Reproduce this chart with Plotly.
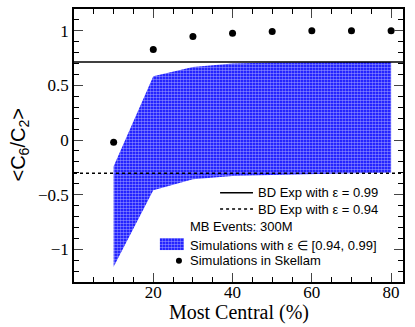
import plotly.graph_objects as go

# Data
centrality = [10, 20, 30, 40, 50, 60, 70, 80]
skellam = [-0.02, 0.83, 0.948, 0.978, 0.994, 1.0, 1.0, 1.0]
band_upper = [-0.24, 0.585, 0.67, 0.70, 0.71, 0.715, 0.715, 0.715]
band_lower = [-1.16, -0.46, -0.36, -0.33, -0.32, -0.31, -0.305, -0.30]
bd_exp_099 = 0.715
bd_exp_094 = -0.303
x_ticks = [20, 40, 60, 80]

pattern = dict(shape=".", fgcolor="white", bgcolor="#0000ff", size=3, solidity=0.55)

fig = go.Figure()

fig.add_trace(go.Scatter(
    x=centrality + centrality[::-1],
    y=band_upper + band_lower[::-1],
    fill="toself", mode="lines", line=dict(width=0, color="blue"),
    fillcolor="rgba(0,0,0,0)", fillpattern=pattern,
    hoverinfo="skip", showlegend=False))

fig.add_trace(go.Scatter(
    x=centrality, y=skellam, mode="markers",
    marker=dict(color="black", size=7), showlegend=False))

fig.add_shape(type="line", xref="paper", x0=0, x1=1, y0=bd_exp_099, y1=bd_exp_099,
              line=dict(color="black", width=1.5))
fig.add_shape(type="line", xref="paper", x0=0, x1=1, y0=bd_exp_094, y1=bd_exp_094,
              line=dict(color="black", width=1.5, dash="dot"))

# Manual legend (on an overlay 0..1 axis pair)
fig.add_trace(go.Scatter(
    x=[0.261, 0.334, 0.334, 0.261], y=[0.117, 0.117, 0.161, 0.161],
    xaxis="x2", yaxis="y2", fill="toself", mode="lines", line=dict(width=0),
    fillcolor="rgba(0,0,0,0)", fillpattern=pattern, hoverinfo="skip", showlegend=False))
fig.add_trace(go.Scatter(
    x=[0.319], y=[0.078], xaxis="x2", yaxis="y2", mode="markers",
    marker=dict(color="black", size=6), hoverinfo="skip", showlegend=False))

lfont = dict(family="Liberation Sans, Arial, sans-serif", size=13, color="black")
fig.add_shape(type="line", xref="paper", yref="paper", x0=0.444, x1=0.544, y0=0.327, y1=0.327,
              line=dict(color="black", width=1.5))
fig.add_shape(type="line", xref="paper", yref="paper", x0=0.444, x1=0.544, y0=0.267, y1=0.267,
              line=dict(color="black", width=1.5, dash="dot"))
for txt, xp, yp in [("BD Exp with ε = 0.99", 0.553, 0.327),
                    ("BD Exp with ε = 0.94", 0.553, 0.267),
                    ("MB Events: 300M", 0.3465, 0.2026),
                    ("Simulations with ε ∈ [0.94, 0.99]", 0.3465, 0.1355),
                    ("Simulations in Skellam", 0.3465, 0.078)]:
    fig.add_annotation(text=txt, xref="paper", yref="paper", x=xp, y=yp,
                       xanchor="left", yanchor="middle", showarrow=False, font=lfont)

serif = "Liberation Serif, Times New Roman, serif"
fig.add_annotation(text="Most Central (%)", xref="paper", yref="paper", x=0.5, y=0,
                   yshift=-30, xanchor="center", yanchor="middle", showarrow=False,
                   font=dict(family=serif, size=20, color="black"))
fig.add_annotation(text="<C<sub>6</sub>/C<sub>2</sub>>", xref="paper", yref="paper", x=0, y=0.5,
                   xshift=-55, textangle=-90, xanchor="center", yanchor="middle", showarrow=False,
                   font=dict(family="Liberation Sans, Arial, sans-serif", size=20, color="black"))

fig.update_layout(
    width=415, height=327,
    margin=dict(l=74, r=12, t=9, b=45),
    plot_bgcolor="white", paper_bgcolor="white",
    xaxis=dict(range=[0, 83], tickvals=x_ticks, ticks="inside", ticklen=9, automargin=False,
               showline=True, linecolor="black", linewidth=1.5, mirror="allticks",
               showgrid=False, zeroline=False, ticklabelstandoff=-6,
               tickfont=dict(family=serif, size=17, color="black"),
               minor=dict(ticks="inside", ticklen=5, dtick=5, tick0=0, tickcolor="black")),
    yaxis=dict(range=[-1.3, 1.2], dtick=0.5, tick0=0, ticks="inside", ticklen=9, automargin=False,
               showline=True, linecolor="black", linewidth=1.5, mirror="allticks",
               showgrid=False, zeroline=False,
               tickfont=dict(family=serif, size=17, color="black"),
               minor=dict(ticks="inside", ticklen=5, dtick=0.1, tick0=0, tickcolor="black")),
    xaxis2=dict(range=[0, 1], overlaying="x", visible=False, fixedrange=True),
    yaxis2=dict(range=[0, 1], overlaying="y", visible=False, fixedrange=True),
)

fig.write_html("out.html", config={"displayModeBar": False},
               post_script="document.body.style.margin='0';")
